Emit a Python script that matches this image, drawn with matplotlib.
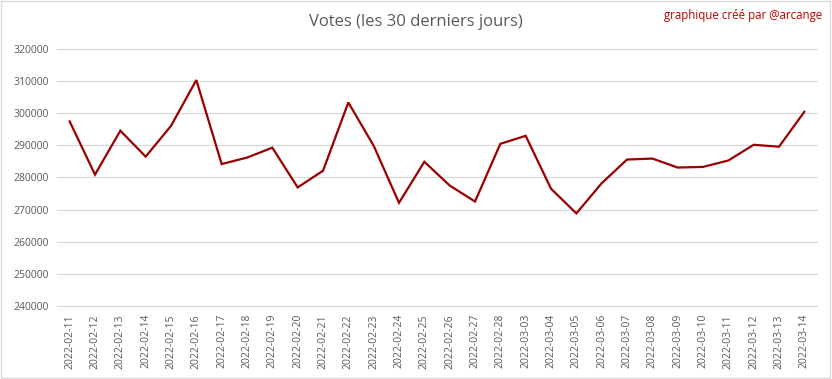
import matplotlib
matplotlib.use("Agg")
import matplotlib.pyplot as plt
from matplotlib.patches import Rectangle

dates = ["2022-02-11", "2022-02-12", "2022-02-13", "2022-02-14", "2022-02-15",
         "2022-02-16", "2022-02-17", "2022-02-18", "2022-02-19", "2022-02-20",
         "2022-02-21", "2022-02-22", "2022-02-23", "2022-02-24", "2022-02-25",
         "2022-02-26", "2022-02-27", "2022-02-28", "2022-03-03", "2022-03-04",
         "2022-03-05", "2022-03-06", "2022-03-07", "2022-03-08", "2022-03-09",
         "2022-03-10", "2022-03-11", "2022-03-12", "2022-03-13", "2022-03-14"]
votes = [297500, 280900, 294600, 286500, 296100, 310400, 284200, 286200, 289300, 276900,
         282100, 303400, 289900, 272100, 284900, 277500, 272500, 290500, 293000, 276500,
         268800, 278200, 285600, 285900, 283100, 283300, 285300, 290200, 289600, 300500]
yticks = list(range(240000, 320001, 10000))

plt.rcParams['font.family'] = ['Open Sans', 'DejaVu Sans']

fig = plt.figure(figsize=(8.32, 3.79), dpi=100)
ax = fig.add_axes([0.0685, 0.1934, 0.9135, 0.6766])

x = list(range(len(dates)))
ax.plot(x, votes, color='#9B0000', lw=1.6, solid_joinstyle='miter')
ax.set_xlim(-0.5, len(dates) - 0.5)
ax.set_ylim(240000, 320000)
ax.set_yticks(yticks)
ax.set_yticklabels([str(v) for v in yticks])
ax.set_xticks(x)
ax.set_xticklabels(dates, rotation=90)
ax.grid(axis='y', color='#D9D9D9', lw=0.9)
for gl in ax.get_ygridlines():
    gl.set_clip_on(False)
ax.set_axisbelow(True)
for s in ax.spines.values():
    s.set_visible(False)
ax.tick_params(axis='both', length=0, colors='#595959', labelsize=7.5)
ax.tick_params(axis='y', pad=6)
ax.tick_params(axis='x', pad=6)

fig.text(0.5, 0.942, "Votes (les 30 derniers jours)", ha='center', va='center',
         fontsize=12, color='#595959')
fig.text(0.988, 0.96, "graphique créé par @arcange", ha='right', va='center',
         fontsize=8.3, color='#C00000')

fig.patches.append(Rectangle((0.001, 0.002), 0.997, 0.995, transform=fig.transFigure,
                             fill=False, edgecolor='#D9D9D9', lw=1))

fig.savefig("out.png", dpi=100, facecolor='white')
